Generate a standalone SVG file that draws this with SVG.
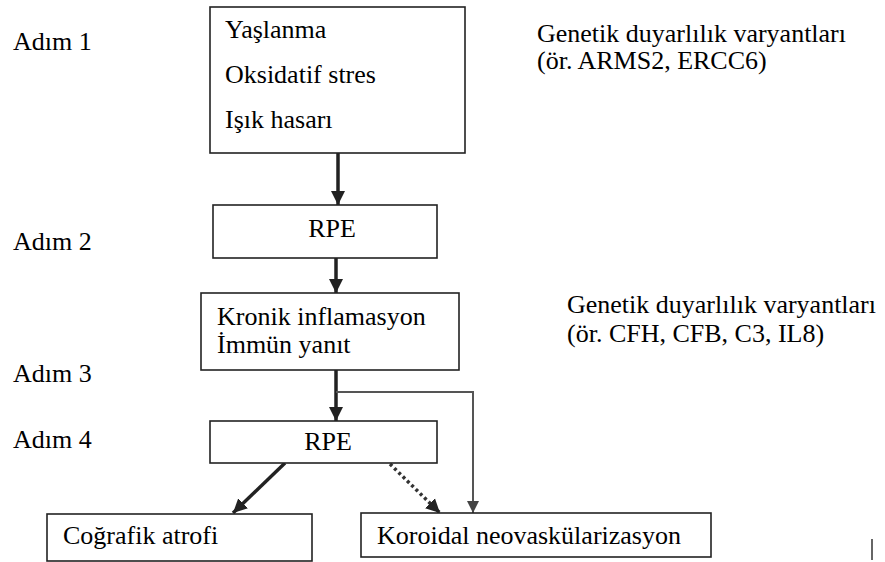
<svg xmlns="http://www.w3.org/2000/svg" width="885" height="562" viewBox="0 0 885 562" font-family="serif">
<defs>
<marker id="ah" markerUnits="userSpaceOnUse" markerWidth="16" markerHeight="16" refX="14" refY="8" orient="auto">
<path d="M0,1 L14,8 L0,15 Z" fill="#222"/>
</marker>
<marker id="ahg" markerUnits="userSpaceOnUse" markerWidth="14" markerHeight="14" refX="12" refY="7" orient="auto">
<path d="M0,1 L12,7 L0,13 Z" fill="#444"/>
</marker>
</defs>
<rect width="885" height="562" fill="#fff"/>

<g id="labels">
<text font-family="serif" font-size="26" x="13" y="50">Adım 1</text>
<text font-family="serif" font-size="26" x="13" y="250">Adım 2</text>
<text font-family="serif" font-size="26" x="13" y="382">Adım 3</text>
<text font-family="serif" font-size="26" x="13" y="448">Adım 4</text>
</g>
<g id="genetic1">
<text font-family="serif" font-size="26" x="537" y="42">Genetik duyarlılık varyantları</text>
<text font-family="serif" font-size="26" x="537" y="69">(ör. ARMS2, ERCC6)</text>
</g>
<g id="genetic2">
<text font-family="serif" font-size="26" x="567" y="313">Genetik duyarlılık varyantları</text>
<text font-family="serif" font-size="26" x="567" y="342">(ör. CFH, CFB, C3, IL8)</text>
</g>

<g id="connectors" fill="none">
<line stroke="#222" stroke-width="3.5" x1="338" y1="153" x2="338" y2="205" marker-end="url(#ah)"/>
<line stroke="#222" stroke-width="3.5" x1="336" y1="258" x2="336" y2="293" marker-end="url(#ah)"/>
<line stroke="#222" stroke-width="3.5" x1="336" y1="370" x2="336" y2="421" marker-end="url(#ah)"/>
<polyline stroke="#555" stroke-width="2" points="336,392 473,392 473,513" marker-end="url(#ahg)"/>
<line stroke="#222" stroke-width="3.5" x1="285" y1="463" x2="233" y2="513" marker-end="url(#ah)"/>
<line stroke="#333" stroke-width="3.5" stroke-dasharray="3 3" x1="390" y1="464" x2="440" y2="513" marker-end="url(#ah)"/>
</g>

<g id="n1">
<rect fill="#fff" stroke="#222" stroke-width="1.6" x="210" y="7" width="255" height="146"/>
<text font-family="serif" font-size="26" x="225" y="38">Yaşlanma</text>
<text font-family="serif" font-size="26" x="225" y="83">Oksidatif stres</text>
<text font-family="serif" font-size="26" x="225" y="128">Işık hasarı</text>
</g>
<g id="n2">
<rect fill="#fff" stroke="#222" stroke-width="1.6" x="213" y="205" width="224" height="53"/>
<text font-family="serif" font-size="26" x="332" y="237" text-anchor="middle">RPE</text>
</g>
<g id="n3">
<rect fill="#fff" stroke="#222" stroke-width="1.6" x="201" y="293" width="258" height="77"/>
<text font-family="serif" font-size="26" x="217" y="325">Kronik inflamasyon</text>
<text font-family="serif" font-size="26" x="217" y="353">İmmün yanıt</text>
</g>
<g id="n4">
<rect fill="#fff" stroke="#222" stroke-width="1.6" x="210" y="421" width="227" height="42"/>
<text font-family="serif" font-size="26" x="328" y="450" text-anchor="middle">RPE</text>
</g>
<g id="n5">
<rect fill="#fff" stroke="#222" stroke-width="1.6" x="47" y="514" width="265" height="47"/>
<text font-family="serif" font-size="26" x="63" y="544">Coğrafik atrofi</text>
</g>
<g id="n6">
<rect fill="#fff" stroke="#222" stroke-width="1.6" x="361" y="513" width="350" height="44"/>
<text font-family="serif" font-size="26" x="377" y="544">Koroidal neovaskülarizasyon</text>
</g>
<line x1="872" y1="539" x2="872" y2="560" stroke="#333" stroke-width="1.5"/>
</svg>
